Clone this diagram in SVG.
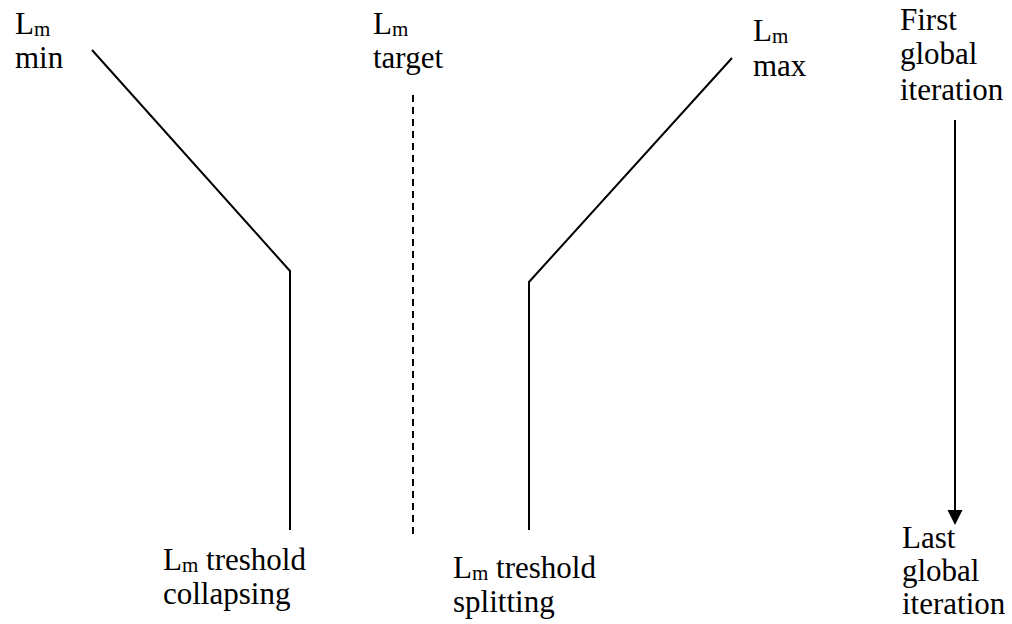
<svg xmlns="http://www.w3.org/2000/svg" width="1012" height="624" viewBox="0 0 1012 624">
<defs>
<style>
.t{font-family:'Liberation Serif','Times New Roman','DejaVu Serif',serif;font-size:31px;fill:#000}
.sub{font-size:21px}
.ln{fill:none;stroke:#000;stroke-width:2}
</style>
</defs>
<rect width="1012" height="624" fill="#fff"/>
<g id="connectors">
<polyline class="ln" points="92,50 290,271 290,530"/>
<line class="ln" x1="413" y1="95" x2="413" y2="535" stroke-dasharray="7 5"/>
<polyline class="ln" points="732,58 529,282 529,530"/>
<line class="ln" x1="955" y1="120" x2="955" y2="512" stroke-width="2.5"/>
<path d="M947.5,510L962.5,510L955,525z" fill="#000"/>
</g>
<g class="t" font-family="Liberation Serif, Times New Roman, serif">
<g id="lm-min"><text x="15" y="34">L<tspan class="sub" dy="2">m</tspan></text><text x="15" y="68">min</text></g>
<g id="lm-target"><text x="373" y="34">L<tspan class="sub" dy="2">m</tspan></text><text x="373" y="68">target</text></g>
<g id="lm-max"><text x="753" y="41">L<tspan class="sub" dy="2">m</tspan></text><text x="753" y="76">max</text></g>
<g id="first"><text x="900" y="30">First</text><text x="900" y="64">global</text><text x="900" y="100">iteration</text></g>
<g id="collapsing"><text x="163" y="570">L<tspan class="sub" dy="2">m</tspan><tspan dy="-2"> treshold</tspan></text><text x="163" y="604">collapsing</text></g>
<g id="splitting"><text x="453" y="578">L<tspan class="sub" dy="2">m</tspan><tspan dy="-2"> treshold</tspan></text><text x="453" y="612">splitting</text></g>
<g id="last"><text x="902" y="548">Last</text><text x="902" y="581">global</text><text x="902" y="614">iteration</text></g>
</g>
</svg>
